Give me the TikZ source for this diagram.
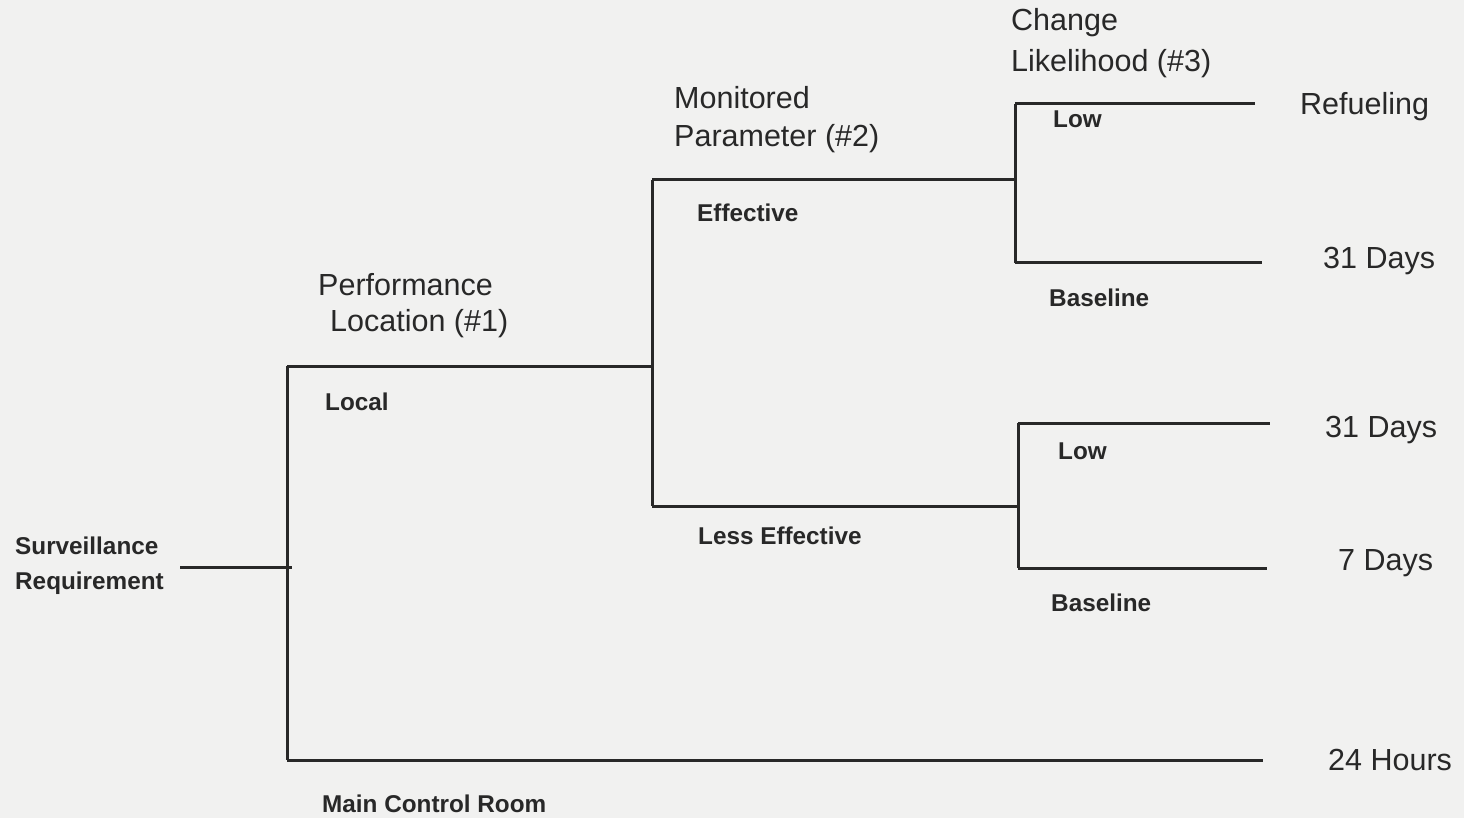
\documentclass[tikz,border=0pt]{standalone}
\usepackage{fontspec}
\setmainfont{Liberation Sans}
\definecolor{bg}{RGB}{241,241,240}
\definecolor{ink}{RGB}{40,40,40}
\begin{document}
\begin{tikzpicture}[x=1pt,y=-1pt,
  edge/.style={draw=ink,line width=3pt},
  head/.style={anchor=west,inner sep=0pt,text=ink,font=\fontsize{30.5}{40}\selectfont,align=left},
  lab/.style={anchor=west,inner sep=0pt,text=ink,font=\fontsize{24.3}{35}\selectfont\bfseries,align=left},
  outc/.style={anchor=west,inner sep=0pt,text=ink,font=\fontsize{30.5}{36}\selectfont}]
\fill[bg] (0,0) rectangle (1464,818);
\useasboundingbox (0,0) rectangle (1464,818);
% junction coordinates
\coordinate (r0) at (180,567);
\coordinate (r1) at (292,567);
\coordinate (a1) at (287,366);
\coordinate (a2) at (287,760);
\coordinate (b0) at (652,366);
\coordinate (b1) at (652,180);
\coordinate (b2) at (652,506);
\coordinate (c1) at (1015,180);
\coordinate (c1t) at (1015,104);
\coordinate (c1b) at (1015,263);
\coordinate (c2) at (1018,506);
\coordinate (c2t) at (1018,423);
\coordinate (c2b) at (1018,568);
\coordinate (e1) at (1255,104);
\coordinate (e2) at (1262,263);
\coordinate (e3) at (1270,423);
\coordinate (e4) at (1267,568);
\coordinate (e5) at (1263,760);
% edges
\draw[edge] (r0) -- (r1);
\draw[edge] (a1) -- (a2);
\draw[edge] (a1) -- (b0);
\draw[edge] (a2) -- (e5);
\draw[edge] (b1) -- (b2);
\draw[edge] (b1) -- (c1);
\draw[edge] (b2) -- (c2);
\draw[edge] (c1t) -- (c1b);
\draw[edge] (c1t) -- (e1);
\draw[edge] (c1b) -- (e2);
\draw[edge] (c2t) -- (c2b);
\draw[edge] (c2t) -- (e3);
\draw[edge] (c2b) -- (e4);
% labels
\node[lab] (sr) at (15,566) {Surveillance\\Requirement};
\node[head] (pl1) at (318,285) {Performance};
\node[head] (pl2) at (330,324) {Location (\#1)};
\node[lab] (local) at (325,402) {Local};
\node[lab] (mcr) at (322,804) {Main Control Room};
\node[head] (mp1) at (674,98) {Monitored};
\node[head] (mp2) at (674,139) {Parameter (\#2)};
\node[lab] (eff) at (697,213) {Effective};
\node[lab] (less) at (698,536) {Less Effective};
\node[head] (cl1) at (1011,23) {Change};
\node[head] (cl2) at (1011,64) {Likelihood (\#3)};
\node[lab] (low1) at (1053,119) {Low};
\node[lab] (base1) at (1049,298) {Baseline};
\node[lab] (low2) at (1058,451) {Low};
\node[lab] (base2) at (1051,603) {Baseline};
\node[outc] (o1) at (1300,107) {Refueling};
\node[outc] (o2) at (1323,261) {31 Days};
\node[outc] (o3) at (1325,430) {31 Days};
\node[outc] (o4) at (1338,563) {7 Days};
\node[outc] (o5) at (1328,760) {24 Hours};
\end{tikzpicture}
\end{document}
